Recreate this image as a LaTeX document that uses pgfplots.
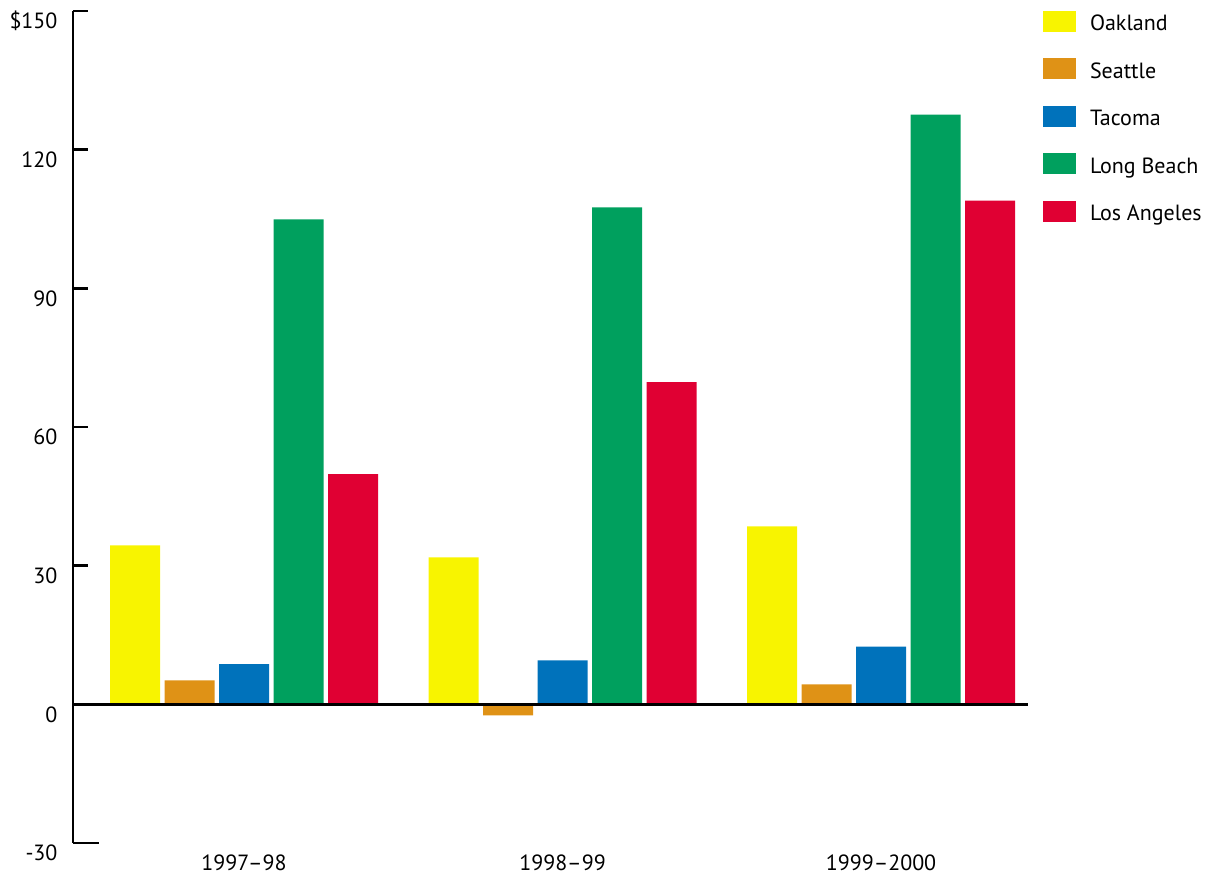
\documentclass[border=0pt]{standalone}
\usepackage{pgfplots}
\pgfplotsset{compat=1.18}
\usepackage{fontspec}
\setmainfont{PT Sans}
\definecolor{cOak}{HTML}{F8F400}
\definecolor{cSea}{HTML}{DF9216}
\definecolor{cTac}{HTML}{0072BB}
\definecolor{cLB}{HTML}{00A05E}
\definecolor{cLA}{HTML}{E00033}
\begin{document}
\begin{tikzpicture}[x=1pt,y=1pt]
\path[use as bounding box] (0,0) rectangle (1213,877);
\begin{axis}[
  at={(73pt,34pt)}, anchor=south west,
  scale only axis, width=955pt, height=832pt,
  xmin=-0.5369, xmax=2.4615, ymin=-30, ymax=150,
  clip=false,
  ybar=4.5pt, bar width=50pt,
  axis y line*=left, axis x line*=bottom,
  x axis line style={draw=none},
  y axis line style={line width=2.5pt, black},
  xtick={0,1,2}, xticklabels={1997--98,1998--99,1999--2000},
  xtick style={draw=none},
  xticklabel style={inner sep=0pt, yshift=-12pt},
  ytick={0,30,60,90,120,150},
  yticklabels={0,30,60,90,120,\$150},
  extra y ticks={-30}, extra y tick labels={-30},
  extra y tick style={major tick length=26pt},
  tick align=inside, major tick length=15pt,
  ytick style={line width=2.5pt, black},
  yticklabel style={xshift=-12pt, yshift=-10pt},
  tick label style={font=\fontsize{22}{26}\selectfont},
  legend style={at={(1.0157,1.0)}, anchor=north west, draw=none, fill=none,
    inner sep=0pt, outer sep=0pt, row sep=26pt, column sep=0pt,
    font=\fontsize{22}{26}\selectfont,
    nodes={inner sep=0pt, outer sep=0pt, anchor=base west}},
  legend cell align=left,
  legend image code/.code={\fill[#1,draw=none] (0pt,-1pt) rectangle (33pt,20pt); \path (47pt,0pt);},
]
\addplot[fill=cOak, draw=none] coordinates {(0,34.4) (1,31.8) (2,38.5)};
\addplot[fill=cSea, draw=none] coordinates {(0,5.2) (1,-2.4) (2,4.3)};
\addplot[fill=cTac, draw=none] coordinates {(0,8.7) (1,9.5) (2,12.5)};
\addplot[fill=cLB, draw=none] coordinates {(0,104.9) (1,107.5) (2,127.6)};
\addplot[fill=cLA, draw=none] coordinates {(0,49.8) (1,69.7) (2,109.0)};
\legend{Oakland,Seattle,Tacoma,Long Beach,Los Angeles}
\draw[line width=2.5pt, black] (axis cs:-0.5369,0) -- (axis cs:2.4615,0);
\end{axis}
\end{tikzpicture}
\end{document}
